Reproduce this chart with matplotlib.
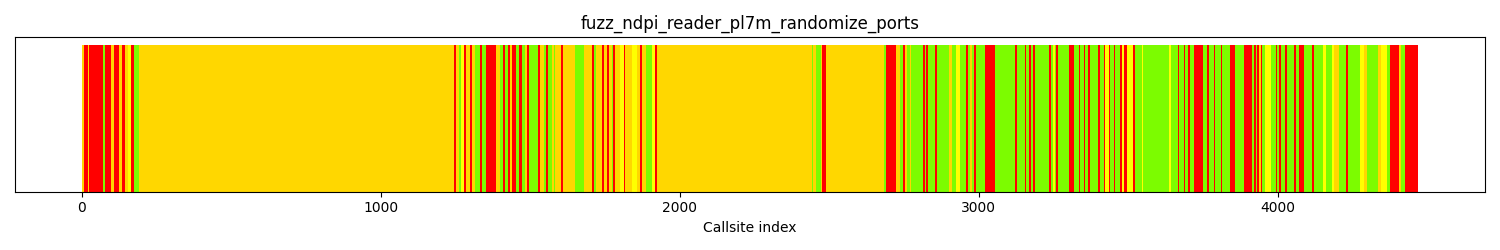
import matplotlib
matplotlib.use('Agg')
import matplotlib.pyplot as plt

# total number of callsites
n_callsites = 4470

# runs of callsites with the same hit category: first index of each run
seg_start = [
    0, 2, 7, 20, 23, 70, 76, 98, 107, 126, 135, 143, 154, 165, 176, 190,
    1244, 1251, 1261, 1267, 1277, 1284, 1297, 1304, 1314, 1331, 1337, 1353,
    1387, 1398, 1409, 1416, 1426, 1431, 1440, 1453, 1462, 1471, 1482, 1489,
    1496, 1527, 1534, 1545, 1552, 1558,
    1572, 1578, 1583, 1602, 1609, 1650, 1681, 1706, 1712, 1721, 1739, 1745,
    1756, 1762, 1773, 1778, 1784, 1801, 1812, 1817, 1840, 1856, 1867, 1873,
    1886, 1906, 1918, 1924,
    2441, 2447, 2455, 2472, 2477, 2490,
    2682, 2691, 2725, 2738, 2747, 2754, 2760, 2769, 2775, 2814, 2820, 2825,
    2831, 2853, 2861, 2901, 2909, 2925, 2937, 2959, 2964, 2970, 2976, 2985,
    2992, 3021,
    3054, 3121, 3128, 3155, 3159, 3168, 3175, 3182, 3188, 3235, 3241, 3250,
    3255, 3260, 3266, 3302, 3320, 3335, 3340, 3351, 3357, 3366, 3372, 3400,
    3406,
    3418, 3424, 3435, 3440, 3451, 3457, 3474, 3480, 3487, 3496, 3516, 3523,
    3546, 3551, 3637, 3643, 3666, 3670, 3686, 3690, 3701, 3706, 3719, 3750,
    3764, 3770, 3786,
    3792, 3809, 3814, 3842, 3857, 3887, 3915, 3920, 3926, 3931, 3937, 3943,
    3948, 3959, 3979, 3993, 3997, 4004, 4011, 4026, 4032, 4054, 4060, 4071,
    4087, 4115, 4121,
    4153, 4160, 4183, 4189, 4205, 4228, 4236, 4276, 4289, 4300, 4337, 4347,
    4367, 4376, 4406, 4414, 4425,
]
# hit category of each run: R = never hit, G/Y = few hits, L = many hits
seg_cat = [
    'R', 'G', 'R', 'G', 'R', 'L', 'R', 'G', 'R', 'G', 'R', 'G', 'Y', 'R', 'L', 'G',
    'R', 'G', 'L', 'Y', 'R', 'G', 'R', 'G', 'L', 'R', 'L', 'R',
    'G', 'L', 'R', 'L', 'R', 'G', 'R', 'L', 'R', 'L', 'G', 'R',
    'L', 'R', 'G', 'L', 'R', 'L',
    'G', 'L', 'G', 'R', 'G', 'L', 'G', 'R', 'L', 'G', 'R', 'G',
    'R', 'G', 'L', 'R', 'G', 'Y', 'R', 'G', 'Y', 'G', 'R', 'G',
    'L', 'Y', 'R', 'G',
    'L', 'G', 'L', 'G', 'R', 'G',
    'L', 'R', 'G', 'L', 'R', 'G', 'L', 'G', 'L', 'R', 'L', 'R',
    'L', 'R', 'L', 'G', 'L', 'Y', 'L', 'R', 'L', 'G', 'L', 'R',
    'L', 'R',
    'L', 'R', 'L', 'R', 'L', 'R', 'L', 'R', 'L', 'R', 'L', 'Y',
    'L', 'R', 'L', 'R', 'L', 'R', 'L', 'R', 'L', 'R', 'L', 'R',
    'L',
    'R', 'Y', 'R', 'L', 'R', 'L', 'R', 'Y', 'R', 'Y', 'R', 'L',
    'Y', 'L', 'Y', 'L', 'R', 'L', 'R', 'L', 'R', 'L', 'R', 'L',
    'R', 'L', 'R',
    'L', 'R', 'L', 'R', 'L', 'R', 'L', 'R', 'L', 'R', 'G', 'R',
    'L', 'Y', 'L', 'R', 'L', 'R', 'L', 'R', 'L', 'R', 'L', 'R',
    'L', 'R', 'L',
    'Y', 'L', 'Y', 'G', 'L', 'R', 'L', 'Y', 'G', 'L', 'G', 'Y',
    'L', 'R', 'G', 'L', 'R',
]

cat_color = {'R': 'red', 'G': 'gold', 'Y': 'yellow', 'L': 'lawngreen'}

# разворачиваю серии в цвет для каждого callsite
colors = []
for i, s in enumerate(seg_start):
    end = seg_start[i + 1] if i + 1 < len(seg_start) else n_callsites
    colors += [cat_color[seg_cat[i]]] * (end - s)

x = list(range(n_callsites))

fig, ax = plt.subplots(figsize=(15, 2.5), dpi=100)
ax.bar(x, [1] * n_callsites, width=1, color=colors)
ax.set_title('fuzz_ndpi_reader_pl7m_randomize_ports')
ax.set_xlabel('Callsite index')
ax.set_yticks([])
plt.tight_layout()
plt.savefig('out.png')
